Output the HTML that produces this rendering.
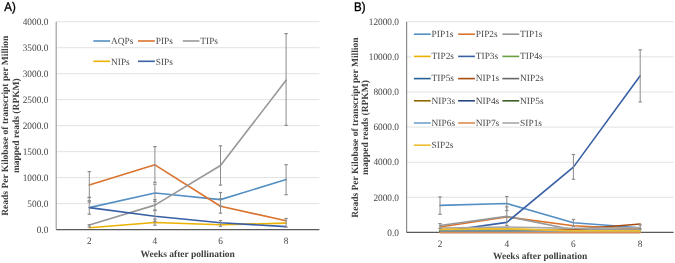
<!DOCTYPE html>
<html><head><meta charset="utf-8"><style>
html,body{margin:0;padding:0;background:#fff;width:675px;height:263px;overflow:hidden}
svg{display:block;will-change:transform}
text{text-rendering:geometricPrecision}
.tk{font-family:"Liberation Serif",serif;font-size:9.8px;fill:#484848}
.lg{font-family:"Liberation Serif",serif;font-size:9.4px;fill:#484848}
.tt{font-family:"Liberation Serif",serif;font-size:9.5px;font-weight:bold;fill:#404040}
.pl{font-family:"Liberation Sans",sans-serif;font-size:12.4px;fill:#000;stroke:#000;stroke-width:0.35px}
</style></head><body>
<svg width="675" height="263" viewBox="0 0 675 263">
<rect width="675" height="263" fill="#fff"/>
<text transform="translate(4.3,10.9) scale(0.93,1)" class="pl">A)</text>
<text transform="translate(354.1,10.8) scale(0.93,1)" class="pl">B)</text>
<text transform="translate(48.3,232.80) scale(0.95,1)" text-anchor="end" class="tk">0.0</text>
<line x1="56.2" y1="203.62" x2="319.4" y2="203.62" stroke="#E2E2E2" stroke-width="1"/>
<text transform="translate(48.3,206.82) scale(0.95,1)" text-anchor="end" class="tk">500.0</text>
<line x1="56.2" y1="177.64" x2="319.4" y2="177.64" stroke="#E2E2E2" stroke-width="1"/>
<text transform="translate(48.3,180.84) scale(0.95,1)" text-anchor="end" class="tk">1000.0</text>
<line x1="56.2" y1="151.66" x2="319.4" y2="151.66" stroke="#E2E2E2" stroke-width="1"/>
<text transform="translate(48.3,154.86) scale(0.95,1)" text-anchor="end" class="tk">1500.0</text>
<line x1="56.2" y1="125.67" x2="319.4" y2="125.67" stroke="#E2E2E2" stroke-width="1"/>
<text transform="translate(48.3,128.88) scale(0.95,1)" text-anchor="end" class="tk">2000.0</text>
<line x1="56.2" y1="99.69" x2="319.4" y2="99.69" stroke="#E2E2E2" stroke-width="1"/>
<text transform="translate(48.3,102.89) scale(0.95,1)" text-anchor="end" class="tk">2500.0</text>
<line x1="56.2" y1="73.71" x2="319.4" y2="73.71" stroke="#E2E2E2" stroke-width="1"/>
<text transform="translate(48.3,76.91) scale(0.95,1)" text-anchor="end" class="tk">3000.0</text>
<line x1="56.2" y1="47.73" x2="319.4" y2="47.73" stroke="#E2E2E2" stroke-width="1"/>
<text transform="translate(48.3,50.93) scale(0.95,1)" text-anchor="end" class="tk">3500.0</text>
<line x1="56.2" y1="21.75" x2="319.4" y2="21.75" stroke="#E2E2E2" stroke-width="1"/>
<text transform="translate(48.3,24.95) scale(0.95,1)" text-anchor="end" class="tk">4000.0</text>
<line x1="56.2" y1="21.75" x2="56.2" y2="229.6" stroke="#A0A0A0" stroke-width="1.2"/>
<line x1="56.2" y1="229.6" x2="319.4" y2="229.6" stroke="#595959" stroke-width="1.2"/>
<text transform="translate(89.3,244.00) scale(0.95,1)" text-anchor="middle" class="tk">2</text>
<text transform="translate(154.9,244.00) scale(0.95,1)" text-anchor="middle" class="tk">4</text>
<text transform="translate(220.5,244.00) scale(0.95,1)" text-anchor="middle" class="tk">6</text>
<text transform="translate(286.1,244.00) scale(0.95,1)" text-anchor="middle" class="tk">8</text>
<polyline points="89.30,207.61 154.90,193.06 220.50,199.61 286.10,179.55" fill="none" stroke="#548FC4" stroke-width="1.6" stroke-linejoin="round" stroke-linecap="round"/>
<polyline points="89.30,184.96 154.90,164.85 220.50,206.21 286.10,220.81" fill="none" stroke="#DA732D" stroke-width="1.6" stroke-linejoin="round" stroke-linecap="round"/>
<polyline points="89.30,225.02 154.90,205.12 220.50,165.47 286.10,80.25" fill="none" stroke="#989898" stroke-width="1.6" stroke-linejoin="round" stroke-linecap="round"/>
<polyline points="89.30,227.72 154.90,222.53 220.50,224.81 286.10,223.10" fill="none" stroke="#EBB100" stroke-width="1.6" stroke-linejoin="round" stroke-linecap="round"/>
<polyline points="89.30,207.61 154.90,216.29 220.50,222.79 286.10,226.58" fill="none" stroke="#3960A5" stroke-width="1.6" stroke-linejoin="round" stroke-linecap="round"/>
<line x1="89.3" y1="171.6" x2="89.3" y2="197.6" stroke="#8C8C8C" stroke-width="1"/>
<line x1="87.6" y1="171.6" x2="91.0" y2="171.6" stroke="#8C8C8C" stroke-width="1.2"/>
<line x1="87.6" y1="197.6" x2="91.0" y2="197.6" stroke="#8C8C8C" stroke-width="1.2"/>
<line x1="89.3" y1="197.3" x2="89.3" y2="214.2" stroke="#8C8C8C" stroke-width="1"/>
<line x1="87.6" y1="197.3" x2="91.0" y2="197.3" stroke="#8C8C8C" stroke-width="1.2"/>
<line x1="87.6" y1="214.2" x2="91.0" y2="214.2" stroke="#8C8C8C" stroke-width="1.2"/>
<line x1="89.3" y1="200.7" x2="89.3" y2="202.0" stroke="#8C8C8C" stroke-width="1"/>
<line x1="87.6" y1="200.7" x2="91.0" y2="200.7" stroke="#8C8C8C" stroke-width="1.2"/>
<line x1="87.6" y1="202.0" x2="91.0" y2="202.0" stroke="#8C8C8C" stroke-width="1.2"/>
<line x1="89.3" y1="224.7" x2="89.3" y2="227.0" stroke="#8C8C8C" stroke-width="1"/>
<line x1="87.6" y1="224.7" x2="91.0" y2="224.7" stroke="#8C8C8C" stroke-width="1.2"/>
<line x1="87.6" y1="227.0" x2="91.0" y2="227.0" stroke="#8C8C8C" stroke-width="1.2"/>
<line x1="154.9" y1="146.6" x2="154.9" y2="182.4" stroke="#8C8C8C" stroke-width="1"/>
<line x1="153.20000000000002" y1="146.6" x2="156.6" y2="146.6" stroke="#8C8C8C" stroke-width="1.2"/>
<line x1="153.20000000000002" y1="182.4" x2="156.6" y2="182.4" stroke="#8C8C8C" stroke-width="1.2"/>
<line x1="154.9" y1="184.2" x2="154.9" y2="201.4" stroke="#8C8C8C" stroke-width="1"/>
<line x1="153.20000000000002" y1="184.2" x2="156.6" y2="184.2" stroke="#8C8C8C" stroke-width="1.2"/>
<line x1="153.20000000000002" y1="201.4" x2="156.6" y2="201.4" stroke="#8C8C8C" stroke-width="1.2"/>
<line x1="154.9" y1="199.6" x2="154.9" y2="210.0" stroke="#8C8C8C" stroke-width="1"/>
<line x1="153.20000000000002" y1="199.6" x2="156.6" y2="199.6" stroke="#8C8C8C" stroke-width="1.2"/>
<line x1="153.20000000000002" y1="210.0" x2="156.6" y2="210.0" stroke="#8C8C8C" stroke-width="1.2"/>
<line x1="154.9" y1="210.5" x2="154.9" y2="221.5" stroke="#8C8C8C" stroke-width="1"/>
<line x1="153.20000000000002" y1="210.5" x2="156.6" y2="210.5" stroke="#8C8C8C" stroke-width="1.2"/>
<line x1="153.20000000000002" y1="221.5" x2="156.6" y2="221.5" stroke="#8C8C8C" stroke-width="1.2"/>
<line x1="154.9" y1="219.1" x2="154.9" y2="225.2" stroke="#8C8C8C" stroke-width="1"/>
<line x1="153.20000000000002" y1="219.1" x2="156.6" y2="219.1" stroke="#8C8C8C" stroke-width="1.2"/>
<line x1="153.20000000000002" y1="225.2" x2="156.6" y2="225.2" stroke="#8C8C8C" stroke-width="1.2"/>
<line x1="220.5" y1="145.8" x2="220.5" y2="185.1" stroke="#8C8C8C" stroke-width="1"/>
<line x1="218.8" y1="145.8" x2="222.2" y2="145.8" stroke="#8C8C8C" stroke-width="1.2"/>
<line x1="218.8" y1="185.1" x2="222.2" y2="185.1" stroke="#8C8C8C" stroke-width="1.2"/>
<line x1="220.5" y1="192.5" x2="220.5" y2="206.1" stroke="#8C8C8C" stroke-width="1"/>
<line x1="218.8" y1="192.5" x2="222.2" y2="192.5" stroke="#8C8C8C" stroke-width="1.2"/>
<line x1="218.8" y1="206.1" x2="222.2" y2="206.1" stroke="#8C8C8C" stroke-width="1.2"/>
<line x1="220.5" y1="198.6" x2="220.5" y2="213.2" stroke="#8C8C8C" stroke-width="1"/>
<line x1="218.8" y1="198.6" x2="222.2" y2="198.6" stroke="#8C8C8C" stroke-width="1.2"/>
<line x1="218.8" y1="213.2" x2="222.2" y2="213.2" stroke="#8C8C8C" stroke-width="1.2"/>
<line x1="220.5" y1="220.6" x2="220.5" y2="226.3" stroke="#8C8C8C" stroke-width="1"/>
<line x1="218.8" y1="220.6" x2="222.2" y2="220.6" stroke="#8C8C8C" stroke-width="1.2"/>
<line x1="218.8" y1="226.3" x2="222.2" y2="226.3" stroke="#8C8C8C" stroke-width="1.2"/>
<line x1="286.1" y1="33.6" x2="286.1" y2="125.4" stroke="#8C8C8C" stroke-width="1"/>
<line x1="284.40000000000003" y1="33.6" x2="287.8" y2="33.6" stroke="#8C8C8C" stroke-width="1.2"/>
<line x1="284.40000000000003" y1="125.4" x2="287.8" y2="125.4" stroke="#8C8C8C" stroke-width="1.2"/>
<line x1="286.1" y1="164.7" x2="286.1" y2="194.7" stroke="#8C8C8C" stroke-width="1"/>
<line x1="284.40000000000003" y1="164.7" x2="287.8" y2="164.7" stroke="#8C8C8C" stroke-width="1.2"/>
<line x1="284.40000000000003" y1="194.7" x2="287.8" y2="194.7" stroke="#8C8C8C" stroke-width="1.2"/>
<line x1="286.1" y1="218.5" x2="286.1" y2="227.0" stroke="#8C8C8C" stroke-width="1"/>
<line x1="284.40000000000003" y1="218.5" x2="287.8" y2="218.5" stroke="#8C8C8C" stroke-width="1.2"/>
<line x1="284.40000000000003" y1="227.0" x2="287.8" y2="227.0" stroke="#8C8C8C" stroke-width="1.2"/>
<line x1="93.3" y1="41.0" x2="110.1" y2="41.0" stroke="#548FC4" stroke-width="1.6"/>
<text x="111.0" y="44.30" class="lg">AQPs</text>
<line x1="138.0" y1="41.0" x2="154.8" y2="41.0" stroke="#DA732D" stroke-width="1.6"/>
<text x="155.70000000000002" y="44.30" class="lg">PIPs</text>
<line x1="182.8" y1="41.0" x2="199.4" y2="41.0" stroke="#989898" stroke-width="1.6"/>
<text x="200.3" y="44.30" class="lg">TIPs</text>
<line x1="93.3" y1="61.3" x2="110.1" y2="61.3" stroke="#EBB100" stroke-width="1.6"/>
<text x="111.0" y="64.60" class="lg">NIPs</text>
<line x1="138.0" y1="61.3" x2="154.8" y2="61.3" stroke="#3960A5" stroke-width="1.6"/>
<text x="155.70000000000002" y="64.60" class="lg">SIPs</text>
<text transform="translate(7.8,125.7) rotate(-90)" text-anchor="middle" class="tt">Reads Per Kilobase of transcript per Million</text>
<text transform="translate(18.7,125.7) rotate(-90)" text-anchor="middle" class="tt">mapped reads (RPKM)</text>
<text x="187.7" y="256.50" text-anchor="middle" class="tt">Weeks after pollination</text>
<text transform="translate(399.0,235.65) scale(0.95,1)" text-anchor="end" class="tk">0.0</text>
<line x1="406.6" y1="197.33" x2="673.6" y2="197.33" stroke="#E2E2E2" stroke-width="1"/>
<text transform="translate(399.0,200.53) scale(0.95,1)" text-anchor="end" class="tk">2000.0</text>
<line x1="406.6" y1="162.22" x2="673.6" y2="162.22" stroke="#E2E2E2" stroke-width="1"/>
<text transform="translate(399.0,165.42) scale(0.95,1)" text-anchor="end" class="tk">4000.0</text>
<line x1="406.6" y1="127.10" x2="673.6" y2="127.10" stroke="#E2E2E2" stroke-width="1"/>
<text transform="translate(399.0,130.30) scale(0.95,1)" text-anchor="end" class="tk">6000.0</text>
<line x1="406.6" y1="91.98" x2="673.6" y2="91.98" stroke="#E2E2E2" stroke-width="1"/>
<text transform="translate(399.0,95.18) scale(0.95,1)" text-anchor="end" class="tk">8000.0</text>
<line x1="406.6" y1="56.87" x2="673.6" y2="56.87" stroke="#E2E2E2" stroke-width="1"/>
<text transform="translate(399.0,60.07) scale(0.95,1)" text-anchor="end" class="tk">10000.0</text>
<line x1="406.6" y1="21.75" x2="673.6" y2="21.75" stroke="#E2E2E2" stroke-width="1"/>
<text transform="translate(399.0,24.95) scale(0.95,1)" text-anchor="end" class="tk">12000.0</text>
<line x1="406.6" y1="21.75" x2="406.6" y2="232.45" stroke="#8A8A8A" stroke-width="1.2"/>
<line x1="406.6" y1="232.45" x2="673.6" y2="232.45" stroke="#595959" stroke-width="1.2"/>
<text transform="translate(440.0,246.85) scale(0.95,1)" text-anchor="middle" class="tk">2</text>
<text transform="translate(506.8,246.85) scale(0.95,1)" text-anchor="middle" class="tk">4</text>
<text transform="translate(573.4,246.85) scale(0.95,1)" text-anchor="middle" class="tk">6</text>
<text transform="translate(640.2,246.85) scale(0.95,1)" text-anchor="middle" class="tk">8</text>
<polyline points="440.00,205.38 506.80,203.48 573.40,222.76 640.20,227.76" fill="none" stroke="#548FC4" stroke-width="1.6" stroke-linejoin="round" stroke-linecap="round"/>
<polyline points="440.00,226.95 506.80,217.00 573.40,225.78 640.20,229.15" fill="none" stroke="#DA732D" stroke-width="1.6" stroke-linejoin="round" stroke-linecap="round"/>
<polyline points="440.00,225.43 506.80,216.38 573.40,229.82 640.20,229.82" fill="none" stroke="#989898" stroke-width="1.6" stroke-linejoin="round" stroke-linecap="round"/>
<polyline points="440.00,229.36 506.80,228.94 573.40,230.87 640.20,230.87" fill="none" stroke="#EBB100" stroke-width="1.6" stroke-linejoin="round" stroke-linecap="round"/>
<polyline points="440.00,231.75 506.80,222.35 573.40,167.13 640.20,75.83" fill="none" stroke="#3960A5" stroke-width="1.6" stroke-linejoin="round" stroke-linecap="round"/>
<polyline points="440.00,230.34 506.80,230.34 573.40,231.40 640.20,231.40" fill="none" stroke="#679F41" stroke-width="1.6" stroke-linejoin="round" stroke-linecap="round"/>
<polyline points="440.00,232.10 506.80,232.10 573.40,232.10 640.20,232.10" fill="none" stroke="#276398" stroke-width="1.6" stroke-linejoin="round" stroke-linecap="round"/>
<polyline points="440.00,232.27 506.80,232.27 573.40,229.47 640.20,224.06" fill="none" stroke="#A64C0F" stroke-width="1.6" stroke-linejoin="round" stroke-linecap="round"/>
<polyline points="440.00,232.36 506.80,232.36 573.40,232.36 640.20,232.36" fill="none" stroke="#686868" stroke-width="1.6" stroke-linejoin="round" stroke-linecap="round"/>
<polyline points="440.00,230.69 506.80,230.69 573.40,231.05 640.20,231.05" fill="none" stroke="#8D6A00" stroke-width="1.6" stroke-linejoin="round" stroke-linecap="round"/>
<polyline points="440.00,231.92 506.80,231.92 573.40,231.92 640.20,231.92" fill="none" stroke="#28477E" stroke-width="1.6" stroke-linejoin="round" stroke-linecap="round"/>
<polyline points="440.00,231.40 506.80,231.40 573.40,231.75 640.20,231.75" fill="none" stroke="#3E6028" stroke-width="1.6" stroke-linejoin="round" stroke-linecap="round"/>
<polyline points="440.00,231.05 506.80,231.05 573.40,231.40 640.20,231.40" fill="none" stroke="#72A1CB" stroke-width="1.6" stroke-linejoin="round" stroke-linecap="round"/>
<polyline points="440.00,232.45 506.80,232.45 573.40,232.45 640.20,232.45" fill="none" stroke="#DE8B53" stroke-width="1.6" stroke-linejoin="round" stroke-linecap="round"/>
<polyline points="440.00,228.06 506.80,227.01 573.40,228.41 640.20,227.71" fill="none" stroke="#A8A8A8" stroke-width="1.6" stroke-linejoin="round" stroke-linecap="round"/>
<polyline points="440.00,229.36 506.80,228.85 573.40,230.87 640.20,230.87" fill="none" stroke="#EBBD2F" stroke-width="1.6" stroke-linejoin="round" stroke-linecap="round"/>
<line x1="440.0" y1="196.9" x2="440.0" y2="214.3" stroke="#8C8C8C" stroke-width="1"/>
<line x1="438.3" y1="196.9" x2="441.7" y2="196.9" stroke="#8C8C8C" stroke-width="1.2"/>
<line x1="438.3" y1="214.3" x2="441.7" y2="214.3" stroke="#8C8C8C" stroke-width="1.2"/>
<line x1="440.0" y1="223.6" x2="440.0" y2="228.5" stroke="#8C8C8C" stroke-width="1"/>
<line x1="438.3" y1="223.6" x2="441.7" y2="223.6" stroke="#8C8C8C" stroke-width="1.2"/>
<line x1="438.3" y1="228.5" x2="441.7" y2="228.5" stroke="#8C8C8C" stroke-width="1.2"/>
<line x1="506.8" y1="196.5" x2="506.8" y2="210.6" stroke="#8C8C8C" stroke-width="1"/>
<line x1="505.1" y1="196.5" x2="508.5" y2="196.5" stroke="#8C8C8C" stroke-width="1.2"/>
<line x1="505.1" y1="210.6" x2="508.5" y2="210.6" stroke="#8C8C8C" stroke-width="1.2"/>
<line x1="506.8" y1="206.8" x2="506.8" y2="225.5" stroke="#8C8C8C" stroke-width="1"/>
<line x1="505.1" y1="206.8" x2="508.5" y2="206.8" stroke="#8C8C8C" stroke-width="1.2"/>
<line x1="505.1" y1="225.5" x2="508.5" y2="225.5" stroke="#8C8C8C" stroke-width="1.2"/>
<line x1="573.4" y1="154.5" x2="573.4" y2="179.3" stroke="#8C8C8C" stroke-width="1"/>
<line x1="571.6999999999999" y1="154.5" x2="575.1" y2="154.5" stroke="#8C8C8C" stroke-width="1.2"/>
<line x1="571.6999999999999" y1="179.3" x2="575.1" y2="179.3" stroke="#8C8C8C" stroke-width="1.2"/>
<line x1="573.4" y1="219.5" x2="573.4" y2="226.2" stroke="#8C8C8C" stroke-width="1"/>
<line x1="571.6999999999999" y1="219.5" x2="575.1" y2="219.5" stroke="#8C8C8C" stroke-width="1.2"/>
<line x1="571.6999999999999" y1="226.2" x2="575.1" y2="226.2" stroke="#8C8C8C" stroke-width="1.2"/>
<line x1="640.2" y1="49.8" x2="640.2" y2="101.9" stroke="#8C8C8C" stroke-width="1"/>
<line x1="638.5" y1="49.8" x2="641.9000000000001" y2="49.8" stroke="#8C8C8C" stroke-width="1.2"/>
<line x1="638.5" y1="101.9" x2="641.9000000000001" y2="101.9" stroke="#8C8C8C" stroke-width="1.2"/>
<line x1="640.2" y1="225.0" x2="640.2" y2="229.0" stroke="#8C8C8C" stroke-width="1"/>
<line x1="638.5" y1="225.0" x2="641.9000000000001" y2="225.0" stroke="#8C8C8C" stroke-width="1.2"/>
<line x1="638.5" y1="229.0" x2="641.9000000000001" y2="229.0" stroke="#8C8C8C" stroke-width="1.2"/>
<rect x="411.5" y="55.0" width="130.70000000000005" height="3.6000000000000014" fill="#fff"/>
<line x1="413.9" y1="34.2" x2="430.7" y2="34.2" stroke="#548FC4" stroke-width="1.6"/>
<text x="431.59999999999997" y="37.00" class="lg">PIP1s</text>
<line x1="458.1" y1="34.2" x2="474.90000000000003" y2="34.2" stroke="#DA732D" stroke-width="1.6"/>
<text x="475.8" y="37.00" class="lg">PIP2s</text>
<line x1="502.4" y1="34.2" x2="519.1999999999999" y2="34.2" stroke="#989898" stroke-width="1.6"/>
<text x="520.0999999999999" y="37.00" class="lg">TIP1s</text>
<line x1="413.9" y1="56.4" x2="430.7" y2="56.4" stroke="#EBB100" stroke-width="1.6"/>
<text x="431.59999999999997" y="59.20" class="lg">TIP2s</text>
<line x1="458.1" y1="56.4" x2="474.90000000000003" y2="56.4" stroke="#3960A5" stroke-width="1.6"/>
<text x="475.8" y="59.20" class="lg">TIP3s</text>
<line x1="502.4" y1="56.4" x2="519.1999999999999" y2="56.4" stroke="#679F41" stroke-width="1.6"/>
<text x="520.0999999999999" y="59.20" class="lg">TIP4s</text>
<line x1="413.9" y1="78.6" x2="430.7" y2="78.6" stroke="#276398" stroke-width="1.6"/>
<text x="431.59999999999997" y="81.40" class="lg">TIP5s</text>
<line x1="458.1" y1="78.6" x2="474.90000000000003" y2="78.6" stroke="#A64C0F" stroke-width="1.6"/>
<text x="475.8" y="81.40" class="lg">NIP1s</text>
<line x1="502.4" y1="78.6" x2="519.1999999999999" y2="78.6" stroke="#686868" stroke-width="1.6"/>
<text x="520.0999999999999" y="81.40" class="lg">NIP2s</text>
<line x1="413.9" y1="100.8" x2="430.7" y2="100.8" stroke="#8D6A00" stroke-width="1.6"/>
<text x="431.59999999999997" y="103.60" class="lg">NIP3s</text>
<line x1="458.1" y1="100.8" x2="474.90000000000003" y2="100.8" stroke="#28477E" stroke-width="1.6"/>
<text x="475.8" y="103.60" class="lg">NIP4s</text>
<line x1="502.4" y1="100.8" x2="519.1999999999999" y2="100.8" stroke="#3E6028" stroke-width="1.6"/>
<text x="520.0999999999999" y="103.60" class="lg">NIP5s</text>
<line x1="413.9" y1="123.0" x2="430.7" y2="123.0" stroke="#72A1CB" stroke-width="1.6"/>
<text x="431.59999999999997" y="125.80" class="lg">NIP6s</text>
<line x1="458.1" y1="123.0" x2="474.90000000000003" y2="123.0" stroke="#DE8B53" stroke-width="1.6"/>
<text x="475.8" y="125.80" class="lg">NIP7s</text>
<line x1="502.4" y1="123.0" x2="519.1999999999999" y2="123.0" stroke="#A8A8A8" stroke-width="1.6"/>
<text x="520.0999999999999" y="125.80" class="lg">SIP1s</text>
<line x1="413.9" y1="145.2" x2="430.7" y2="145.2" stroke="#EBBD2F" stroke-width="1.6"/>
<text x="431.59999999999997" y="148.00" class="lg">SIP2s</text>
<text transform="translate(357.6,127.6) rotate(-90)" text-anchor="middle" class="tt">Reads Per Kilobase of transcript per Million</text>
<text transform="translate(368.4,127.6) rotate(-90)" text-anchor="middle" class="tt">mapped reads (RPKM)</text>
<text x="540.1" y="259.35" text-anchor="middle" class="tt">Weeks after pollination</text>
</svg>
</body></html>
